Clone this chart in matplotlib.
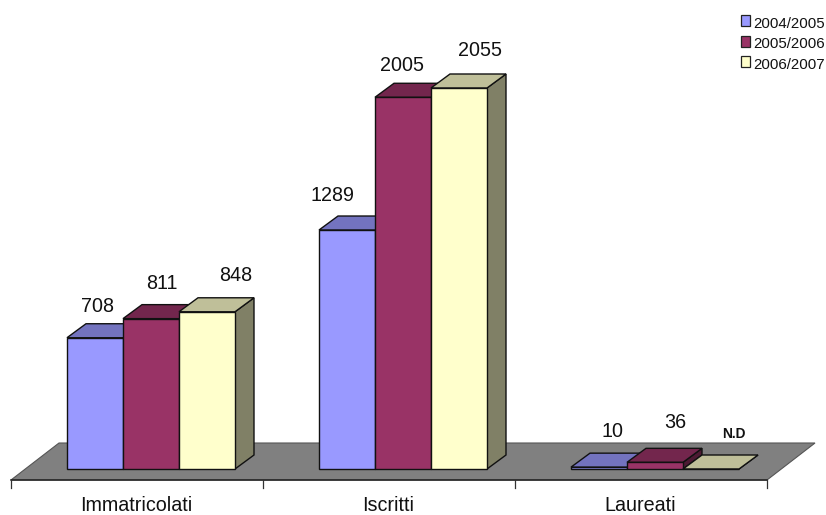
import matplotlib
matplotlib.use('Agg')
import matplotlib.pyplot as plt
from matplotlib.patches import Polygon, Patch

plt.rcParams['font.family'] = ['Liberation Sans', 'DejaVu Sans']

categorie = ['Immatricolati', 'Iscritti', 'Laureati']
anni = ['2004/2005', '2005/2006', '2006/2007']
valori_2004 = [708, 1289, 10]
valori_2005 = [811, 2005, 36]
valori_2006 = [848, 2055, 0]
etichette_2006 = ['848', '2055', 'N.D']

# spostamento delle etichette rispetto al centro della cima della barra (pixel)
offset_2004 = [(2, 31), (-15, 35), (13, 36)]
offset_2005 = [(11, 35), (-1, 32), (20, 40)]
offset_2006 = [(29, 36), (21, 37), (23, 35)]

colori = ['#9999FF', '#993366', '#FFFFCC']
colori_top = ['#7373BF', '#73264D', '#BFBF99']
colori_lato = ['#4D4D80', '#4D1A33', '#808066']

W, H = 826, 515
px_x = 252.0         # pixel per categoria
px_y = 381.0 / 2055  # pixel per unita
x0, y0 = 11, 469     # origine degli assi in pixel

# profondita della vista 3D, in unita degli assi
dx = 19 / px_x
dy = 14 / px_y
larg = 56 / px_x
margine = 56 / px_x

fig = plt.figure(figsize=(W / 100, H / 100), dpi=100)
ax = fig.add_axes([0, 0, 1, 1])
ax.set_xlim(-x0 / px_x, (W - x0) / px_x)
ax.set_ylim(-(H - y0) / px_y, y0 / px_y)
ax.axis('off')

# pavimento grigio
fronte = -11 / px_y
retro = 26 / px_y
ax.add_patch(Polygon([(0, fronte), (3, fronte), (3 + 48 / px_x, retro), (48 / px_x, retro)],
                     facecolor='#808080', edgecolor='#555555', lw=0.8, zorder=1))
ax.plot([0, 3], [fronte, fronte], color='#222222', lw=1.1, zorder=2)

# tacche e nomi delle categorie
for i in range(4):
    ax.plot([i, i], [fronte, fronte - 8 / px_y], color='#333333', lw=0.9, zorder=2)
for i, nome in enumerate(categorie):
    ax.text(i + 0.497, -42 / px_y, nome, ha='center', va='baseline', fontsize=14.2, color='#111111')


def barra(x, v, c_front, c_top, c_lato, z):
    bordo = dict(edgecolor='#111111', lw=1.0, joinstyle='miter', zorder=z)
    ax.add_patch(Polygon([(x + larg, 0), (x + larg + dx, dy), (x + larg + dx, v + dy), (x + larg, v)],
                         facecolor=c_lato, **bordo))
    ax.add_patch(Polygon([(x, v), (x + larg, v), (x + larg + dx, v + dy), (x + dx, v + dy)],
                         facecolor=c_top, **bordo))
    ax.add_patch(Polygon([(x, 0), (x + larg, 0), (x + larg, v), (x, v)],
                         facecolor=c_front, **bordo))


serie = [valori_2004, valori_2005, valori_2006]
offset = [offset_2004, offset_2005, offset_2006]
for s, valori in enumerate(serie):
    for i, v in enumerate(valori):
        x = i + margine + s * larg
        barra(x, v, colori[s], colori_top[s], colori_lato[s], 3 + s)
        testo = str(v)
        stile = dict(fontsize=14.2, color='#111111')
        if s == 2:
            testo = etichette_2006[i]
        if testo == 'N.D':
            stile = dict(fontsize=9.9, fontweight='bold', color='#111111')
        ax.annotate(testo, (x + larg / 2, v), xytext=offset[s][i], textcoords='offset pixels',
                    ha='center', va='center', zorder=10, **stile)

maniglie = [Patch(facecolor=c, edgecolor='#222222', lw=0.9) for c in colori]
leg = fig.legend(maniglie, anni, loc='upper left', bbox_to_anchor=(741 / W, 1 - 15 / H), frameon=False,
                 fontsize=10.8, handlelength=0.6, handleheight=0.75, handletextpad=0.2,
                 labelspacing=0.42, borderpad=0, borderaxespad=0, labelcolor='#111111')
# testo della legenda un po' piu in basso dei quadratini
for t in leg.get_texts():
    t.set_y(-2)

fig.savefig('out.png', dpi=100)
